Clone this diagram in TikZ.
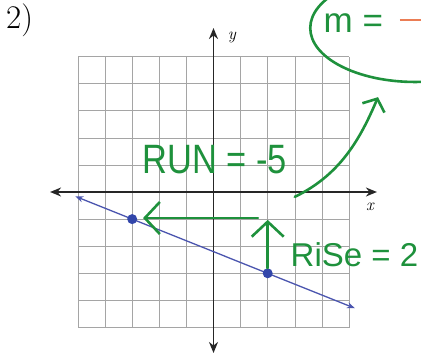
\documentclass[tikz,border=0pt]{standalone}
\usepackage{fontspec}
\newfontfamily\hand{Liberation Sans}
\usetikzlibrary{arrows.meta}
\definecolor{pen}{RGB}{30,145,60}
\definecolor{lineblue}{RGB}{75,85,175}
\definecolor{dotblue}{RGB}{50,70,170}
\definecolor{orangemark}{RGB}{235,125,85}
\definecolor{gridgray}{RGB}{165,165,165}
\tikzset{
  gridline/.style={draw=gridgray, line width=0.6pt},
  axis/.style={draw=black!85, line width=1.6pt, {Stealth[length=11pt,width=9pt]}-{Stealth[length=11pt,width=9pt]}},
  blueline/.style={draw=lineblue, line width=1.3pt, {Stealth[length=8pt,width=6pt]}-{Stealth[length=8pt,width=6pt]}},
  dot/.style={circle, fill=dotblue, inner sep=0pt, minimum size=10pt},
  penline/.style={draw=pen, line width=2.6pt, line cap=round, line join=round},
  bigbarb/.style={-{Straight Barb[length=15pt,width=32pt,line width=2.6pt]}},
  smallbarb/.style={-{Straight Barb[length=10pt,width=24pt,line width=2.6pt]}},
  handtext/.style={text=pen, inner sep=0pt},
  axlabel/.style={font=\itshape\fontsize{17}{17}\selectfont, inner sep=0pt}
}
\begin{document}
\begin{tikzpicture}[x=1pt,y=-1pt]
\useasboundingbox (0,0) rectangle (421,356);
\clip (0,0) rectangle (421,356);
\fill[white] (0,0) rectangle (421,356);
\node[anchor=base west, inner sep=0pt, font=\fontsize{33}{33}\selectfont] (num) at (6,28) {2)};
\begin{scope}[shift={(213.5,192)}, x=27.1pt, y=27.1pt]
  \foreach \k in {-5,...,5} {
    \draw[gridline] (\k,-5) -- (\k,5);
    \draw[gridline] (-5,\k) -- (5,\k);
  }
  \coordinate (xl) at (-6.03,0);
  \coordinate (xr) at (6.03,0);
  \coordinate (yb) at (0,-5.94);
  \coordinate (yt) at (0,6.05);
  \draw[axis] (xl) -- (xr);
  \draw[axis] (yb) -- (yt);
  \node[axlabel] (ylab) at (0.68,5.72) {y};
  \node[axlabel] (xlab) at (5.77,-0.55) {x};
  \coordinate (bl) at (-5.1,-0.16);
  \coordinate (br) at (5.22,-4.29);
  \draw[blueline] (bl) -- (br);
  \node[dot] (p1) at (-3,-1) {};
  \node[dot] (p2) at (2,-3) {};
  % rise arrow
  \coordinate (risetop) at (2,-1.03);
  \draw[penline, bigbarb] (p2.north) -- (risetop);
  % run arrow
  \coordinate (runstart) at (1.64,-0.96);
  \coordinate (runend) at (-2.6,-0.96);
  \draw[penline, bigbarb] (runstart) -- (runend);
  \node[handtext, font=\hand\fontsize{41}{41}\selectfont, xscale=0.84] (run) at (0.05,1.18) {RUN = -5};
  \node[handtext, font=\hand\fontsize{33}{33}\selectfont] (rise) at (5.2,-2.32) {RiSe = 2};
  % curved arrow to slope
  \coordinate (cstart) at (3.0,-0.18);
  \coordinate (cend) at (6.07,3.5);
  \draw[penline, smallbarb] (cstart) .. controls (4.66,0.63) and (5.4,1.92) .. (cend);
  % ellipse around slope
  \draw[penline] (7.44,6.05) ellipse [x radius=3.87, y radius=1.99];
  \node[handtext, font=\hand\fontsize{35}{35}\selectfont, anchor=base] (m) at (5.16,5.87) {m =};
  \coordinate (dashl) at (6.88,6.35);
  \coordinate (dashr) at (7.65,6.35);
  \draw[draw=orangemark, line width=2pt] (dashl) -- (dashr);
\end{scope}
\end{tikzpicture}
\end{document}
